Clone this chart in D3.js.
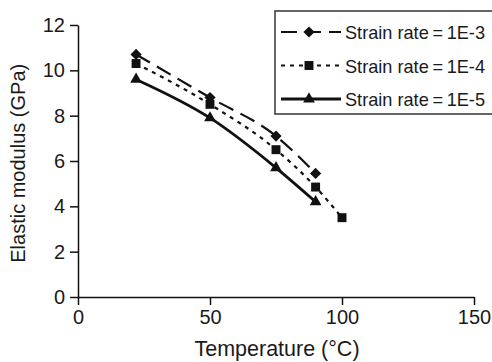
<!DOCTYPE html>
<html><head><meta charset="utf-8">
<script src="https://cdn.jsdelivr.net/npm/d3@7"></script>
<style>body{margin:0;background:#fff}svg{display:block}text{font-family:"Liberation Sans",Arial,sans-serif;fill:#1a1a1a}</style>
</head><body><div id="chart"></div>
<script>
const temperature = [22, 50, 75, 90];
const temperature4 = [22, 50, 75, 90, 100];
const rate3 = [10.7, 8.8, 7.1, 5.45];
const rate4 = [10.3, 8.5, 6.5, 4.85, 3.5];
const rate5 = [9.6, 7.9, 5.7, 4.2];
const seriesNames = ["Strain rate\u2009=\u20091E-3", "Strain rate\u2009=\u20091E-4", "Strain rate\u2009=\u20091E-5"];
const xTicks = [0, 50, 100, 150];
const yTicks = [0, 2, 4, 6, 8, 10, 12];

const W = 492, H = 362;
const m = {left: 78, right: 18, top: 25, bottom: 65};
const svg = d3.select("#chart").append("svg").attr("width", W).attr("height", H);
const x = d3.scaleLinear().domain([0, 150]).range([m.left, W - m.right]);
const y = d3.scaleLinear().domain([0, 12]).range([H - m.bottom, m.top]);

const diamond = d3.symbolDiamond2 || d3.symbolDiamond;
const series = [
  {name: seriesNames[0], xs: temperature, ys: rate3, dash: "16,8", width: 2.2, sym: diamond, size: 80},
  {name: seriesNames[1], xs: temperature4, ys: rate4, dash: "4,5", width: 2.2, sym: d3.symbolSquare, size: 80},
  {name: seriesNames[2], xs: temperature, ys: rate5, dash: null, width: 2.8, sym: d3.symbolTriangle, size: 60}
];

// axes
const xAxis = svg.append("g").attr("transform", `translate(0,${y(0)})`)
  .call(d3.axisBottom(x).tickValues(xTicks).tickSize(8).tickSizeOuter(0).tickPadding(5));
const yAxis = svg.append("g").attr("transform", `translate(${x(0)},0)`)
  .call(d3.axisLeft(y).tickValues(yTicks).tickSize(8).tickSizeOuter(0).tickPadding(5));
[xAxis, yAxis].forEach(g => {
  g.select(".domain").attr("stroke", "#111").attr("stroke-width", 1.5);
  g.selectAll(".tick line").attr("stroke", "#111").attr("stroke-width", 1.5);
  g.selectAll(".tick text").attr("font-size", 20).attr("font-family", "Liberation Sans, Arial, sans-serif").attr("fill", "#1a1a1a");
});

svg.append("text").attr("x", x(75) + 1).attr("y", 356).attr("text-anchor", "middle").attr("font-size", 21.5).text("Temperature (°C)");
svg.append("text").attr("transform", `translate(25,${y(5.9)}) rotate(-90)`).attr("text-anchor", "middle").attr("font-size", 20).text("Elastic modulus (GPa)");

const line = d3.line().x(d => x(d[0])).y(d => y(d[1])).curve(d3.curveMonotoneX);
series.forEach(s => {
  const pts = s.xs.map((v, i) => [v, s.ys[i]]);
  svg.append("path").datum(pts).attr("d", line).attr("fill", "none").attr("stroke", "#111")
    .attr("stroke-width", s.width).attr("stroke-dasharray", s.dash);
  svg.selectAll(null).data(pts).enter().append("path")
    .attr("d", d3.symbol().type(s.sym).size(s.size))
    .attr("transform", d => `translate(${x(d[0])},${y(d[1])})`).attr("fill", "#111");
});

// legend
const lg = svg.append("g");
lg.append("rect").attr("x", 275).attr("y", 11).attr("width", 230).attr("height", 103)
  .attr("fill", "#fff").attr("stroke", "#333").attr("stroke-width", 1.5);
series.forEach((s, i) => {
  const ly = 32 + i * 33.5;
  lg.append("line").attr("x1", 281).attr("x2", 341).attr("y1", ly).attr("y2", ly)
    .attr("stroke", "#111").attr("stroke-width", s.width).attr("stroke-dasharray", s.dash);
  lg.append("path").attr("d", d3.symbol().type(s.sym).size(s.size)).attr("transform", `translate(309,${ly})`).attr("fill", "#111");
  lg.append("text").attr("x", 345).attr("y", ly + 7).attr("font-size", 19)
    .attr("textLength", 140).attr("lengthAdjust", "spacingAndGlyphs").text(s.name);
});
</script></body></html>
